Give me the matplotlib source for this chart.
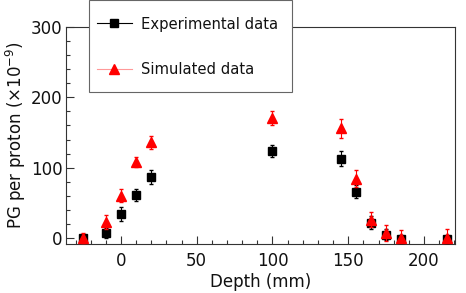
import matplotlib
matplotlib.use("Agg")
import matplotlib.pyplot as plt
from matplotlib.ticker import MultipleLocator
from matplotlib.lines import Line2D
from matplotlib.patches import Rectangle

depth = [-25, -10, 0, 10, 20, 100, 145, 155, 165, 175, 185, 215]
exp_vals = [0, 7, 34, 61, 87, 124, 113, 66, 22, 5, -1, -1]
exp_err = [6, 7, 10, 8, 10, 8.5, 10.5, 9, 9, 8, 6, 6]
sim_vals = [0, 23, 60, 108, 136, 171, 156, 84, 26, 7, 0, 0]
sim_err = [7, 10, 9, 7, 9.5, 10, 13.5, 12, 11, 11.5, 11, 13]
labels = ['Experimental data', 'Simulated data']

plt.rcParams['font.family'] = ['DejaVu Sans']
plt.rcParams['mathtext.fontset'] = 'dejavusans'

W, H = 466, 293
fig = plt.figure(figsize=(W/100, H/100), dpi=100)
ax = fig.add_axes([66/W, 1-244/H, (455-66)/W, (244-27)/H])

ax.errorbar(depth, exp_vals, yerr=exp_err, fmt='s', color='black', ms=6,
            elinewidth=0.8, capsize=1.2, ecolor='black', zorder=3)
ax.errorbar(depth, sim_vals, yerr=sim_err, fmt='^', color='red', ms=6.5,
            elinewidth=0.8, capsize=1.2, ecolor='red', zorder=4)

ax.set_xlim(-36.3, 220.5)
ax.set_ylim(-8.5, 300)
ax.xaxis.set_major_locator(MultipleLocator(50))
ax.xaxis.set_minor_locator(MultipleLocator(10))
ax.yaxis.set_major_locator(MultipleLocator(100))
ax.yaxis.set_minor_locator(MultipleLocator(20))
ax.tick_params(which='both', direction='in', top=False, right=False,
               labelsize=12, color='#333333', labelcolor='#111111')
ax.tick_params(which='major', length=6, width=0.8)
ax.tick_params(which='minor', length=3, width=0.8)
ax.tick_params(axis='x', pad=5.5)
ax.tick_params(axis='y', pad=2.5)
for s in ax.spines.values():
    s.set_linewidth(0.8)
    s.set_color('#333333')

ax.set_xlabel('Depth (mm)', fontsize=12, color='#111111')
ax.set_ylabel(r'PG per proton ($\times$10$^{-9}$)', fontsize=12, color='#111111')
ax.xaxis.set_label_coords(0.5, -(282 - 244) / (244 - 27), transform=ax.transAxes)
ax.xaxis.label.set_va('center')
ax.yaxis.set_label_coords(-(66 - 16) / (455 - 66), 0.5, transform=ax.transAxes)
ax.yaxis.label.set_va('center')

# legend box
box = Rectangle((89/W, 1-92/H), (292-89)/W, 92/H, transform=fig.transFigure,
                facecolor='white', edgecolor='#666666', lw=0.8, zorder=4)
fig.patches.append(box)

handles = [
    Line2D([], [], color='black', lw=0.8, marker='s', ms=6, mfc='black', mec='black'),
    Line2D([], [], color='#ff9999', lw=0.8, marker='^', ms=6.5, mfc='red', mec='red'),
]
leg = fig.legend(handles, labels,
                 loc='upper left', bbox_to_anchor=(96.7/W, 1-16.5/H), borderaxespad=0,
                 fontsize=10.6, frameon=False, labelspacing=2.1, handlelength=2.38,
                 handletextpad=0.61, borderpad=0, labelcolor='#111111')
leg.set_zorder(5)

fig.savefig('out.png', dpi=100)
